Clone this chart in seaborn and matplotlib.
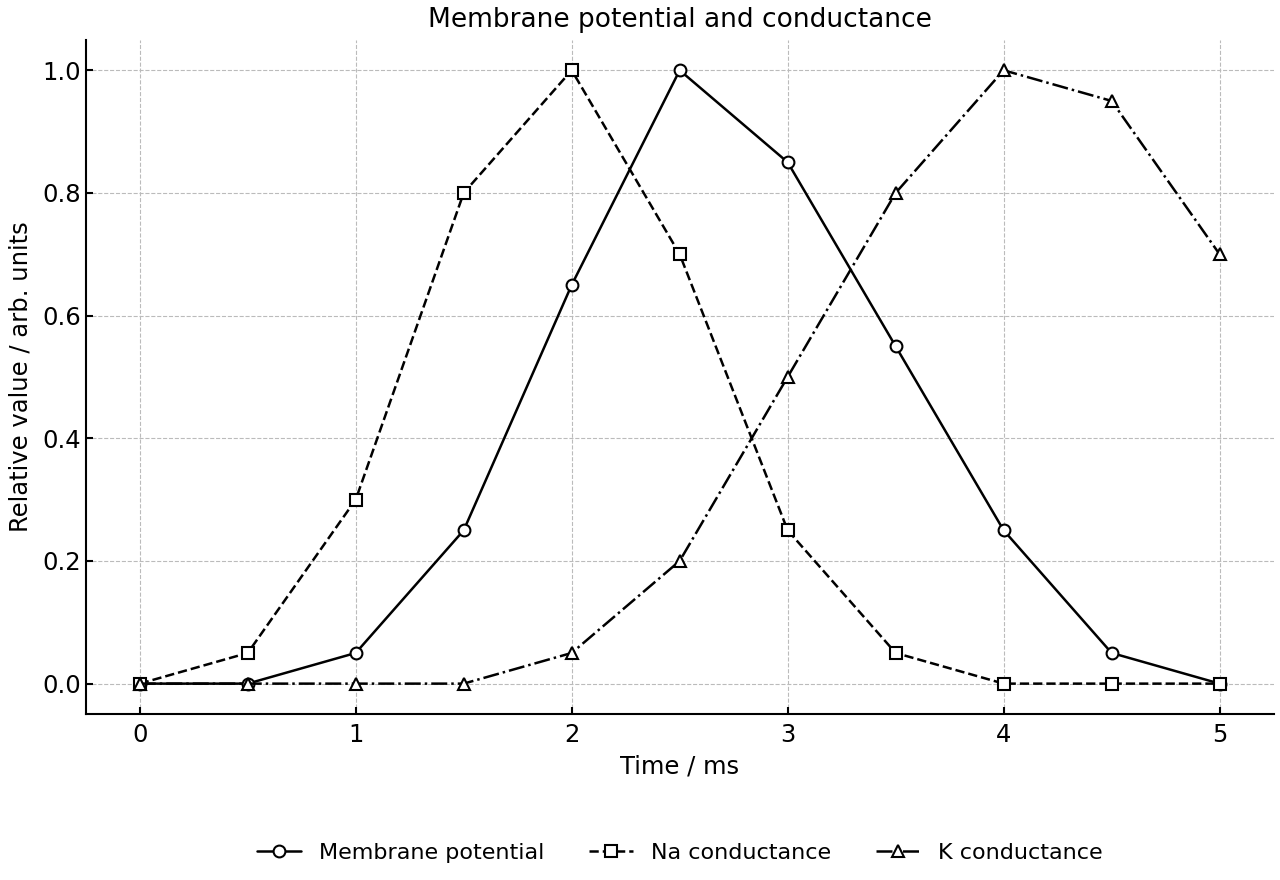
import numpy as np
import pandas as pd
import seaborn as sns
import matplotlib.pyplot as plt

# Datos
tiempo = [0, 0.5, 1, 1.5, 2, 2.5, 3, 3.5, 4, 4.5, 5]
potencial = [0, 0, 0.05, 0.25, 0.65, 1.0, 0.85, 0.55, 0.25, 0.05, 0]
cond_na = [0, 0.05, 0.3, 0.8, 1.0, 0.7, 0.25, 0.05, 0, 0, 0]
cond_k = [0, 0, 0, 0, 0.05, 0.2, 0.5, 0.8, 1.0, 0.95, 0.7]

series = {
    "Membrane potential": potencial,
    "Na conductance": cond_na,
    "K conductance": cond_k,
}
datos = pd.concat(
    [pd.DataFrame({"tiempo": tiempo, "valor": v, "serie": k}) for k, v in series.items()],
    ignore_index=True,
)

sns.set_style("ticks", rc={"text.color": "black", "axes.labelcolor": "black",
                           "xtick.color": "black", "ytick.color": "black",
                           "axes.edgecolor": "black"})
plt.rcParams["font.family"] = ["DejaVu Sans"]

fig, ax = plt.subplots(figsize=(12.8, 8.8), dpi=100)

estilos = {
    "Membrane potential": ("-", "o"),
    "Na conductance": ("--", "s"),
    "K conductance": ("-.", "^"),
}
for nombre, (ls, mk) in estilos.items():
    sub = datos[datos["serie"] == nombre]
    sns.lineplot(data=sub, x="tiempo", y="valor", ax=ax, color="black",
                 linestyle=ls, marker=mk, markersize=8.5, markerfacecolor="white",
                 markeredgecolor="black", markeredgewidth=1.5, linewidth=1.8,
                 label=nombre)

ax.set_title("Membrane potential and conductance", fontsize=19, pad=9)
ax.set_xlabel("Time / ms", fontsize=17.5, labelpad=5)
ax.set_ylabel("Relative value / arb. units", fontsize=17.5, labelpad=7)
ax.set_xticks([0, 1, 2, 3, 4, 5])
ax.set_yticks([0, 0.2, 0.4, 0.6, 0.8, 1.0])
ax.set_xlim(-0.25, 5.25)
ax.set_ylim(-0.049, 1.05)
ax.tick_params(direction="in", labelsize=17.5, width=1.5, length=5)
ax.tick_params(axis="x", pad=7)
ax.grid(True, linestyle="--", color="#bbbbbb", linewidth=0.8)
for s in ["left", "bottom"]:
    ax.spines[s].set_linewidth(1.5)
sns.despine(ax=ax)

ax.legend(loc="center", bbox_to_anchor=(0.5, -0.207), ncol=3, frameon=False,
          fontsize=16, handlelength=2.0, columnspacing=2.0)

plt.subplots_adjust(left=0.067, right=0.995, top=0.955, bottom=0.189)
plt.savefig("out.png", dpi=100)
